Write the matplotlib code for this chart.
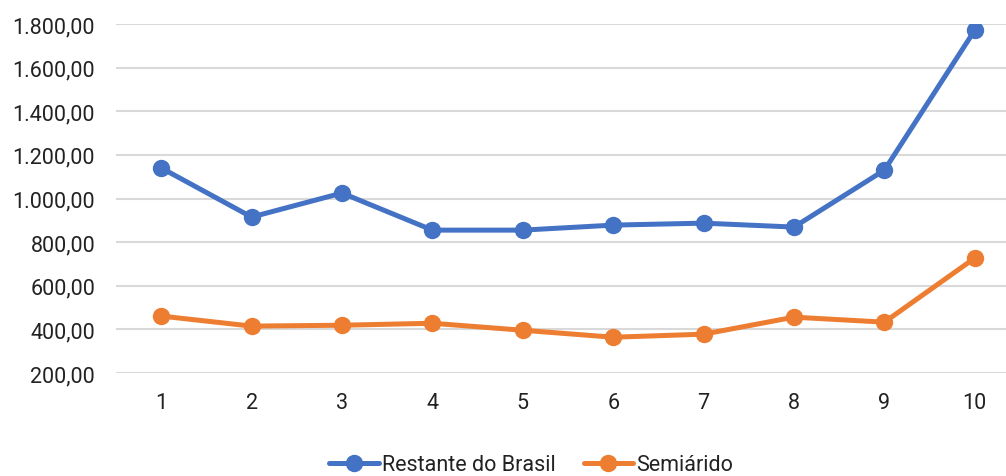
import matplotlib
matplotlib.use("Agg")
import matplotlib.pyplot as plt
from matplotlib.ticker import FuncFormatter

categories = [1, 2, 3, 4, 5, 6, 7, 8, 9, 10]
restante_brasil = [1140, 915, 1025, 855, 855, 878, 887, 869, 1130, 1772]
semiarido = [461, 415, 419, 428, 396, 364, 378, 456, 433, 727]
series_names = ["Restante do Brasil", "Semiárido"]
y_ticks = [200, 400, 600, 800, 1000, 1200, 1400, 1600, 1800]

plt.rcParams["font.family"] = ["Roboto", "DejaVu Sans"]

fig = plt.figure(figsize=(10.06, 4.77), dpi=100)
ax = fig.add_axes([116 / 1006, 1 - 374 / 477, 1 - 116 / 1006, (374 - 25) / 477])

x = list(range(len(categories)))
ax.plot(x, restante_brasil, color="#4472C4", lw=3.6, marker="o", ms=11.5,
        label=series_names[0], solid_capstyle="round", zorder=3)
ax.plot(x, semiarido, color="#ED7D31", lw=3.6, marker="o", ms=11.5,
        label=series_names[1], solid_capstyle="round", zorder=3)

ax.set_xlim(-0.5, -0.5 + (1006 - 116) / 90.4)
ax.set_ylim(200, 1800)
ax.set_yticks(y_ticks)
ax.set_xticks(x)
ax.set_xticklabels([str(c) for c in categories])


def br_format(v, pos):
    s = f"{v:,.2f}"
    return s.replace(",", "X").replace(".", ",").replace("X", ".")


ax.yaxis.set_major_formatter(FuncFormatter(br_format))
ax.grid(axis="y", color="#D9D9D9", lw=1.5, zorder=0)
ax.set_axisbelow(True)
for s in ax.spines.values():
    s.set_visible(False)
ax.tick_params(axis="both", length=0, labelsize=15.5, colors="#222222")
ax.tick_params(axis="y", pad=15)
ax.tick_params(axis="x", pad=14)

leg = fig.legend(loc="center", bbox_to_anchor=(0.528, 1 - 466 / 477), ncol=2,
                 frameon=False, fontsize=15.5, handlelength=2.3,
                 handletextpad=0.15, columnspacing=1.3)
for t in leg.get_texts():
    t.set_color("#222222")

fig.savefig("out.png", dpi=100, facecolor="white")
